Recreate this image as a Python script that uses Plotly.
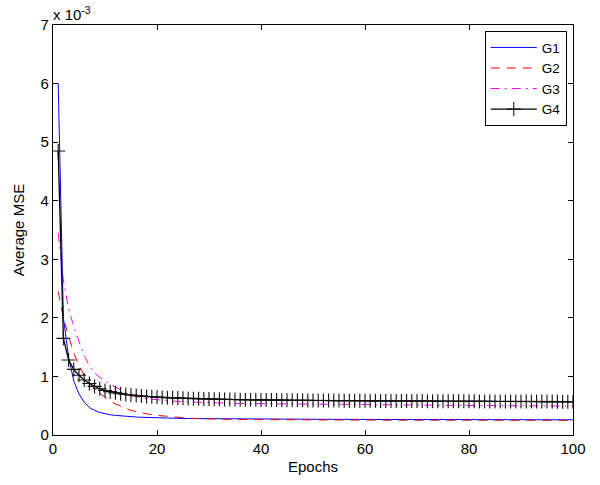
import plotly.graph_objects as go

# Training curves: average MSE (in units of 1e-3) per epoch for four groups
epochs = list(range(1, 101))

g1_mse = [
    6.00, 2.00, 1.33, 0.92, 0.70, 0.56, 0.47, 0.42, 0.385, 0.36,
    0.345, 0.335, 0.325, 0.318, 0.312, 0.307, 0.303, 0.299, 0.296, 0.293,
    0.290, 0.288, 0.286, 0.284, 0.282, 0.281, 0.280, 0.279, 0.278, 0.277,
    0.276, 0.275, 0.275, 0.274, 0.274, 0.273, 0.273, 0.272, 0.272, 0.271,
    0.271, 0.271, 0.270, 0.270, 0.270, 0.269, 0.269, 0.269, 0.268, 0.268,
    0.268, 0.268, 0.267, 0.267, 0.267, 0.267, 0.266, 0.266, 0.266, 0.266,
    0.266, 0.265, 0.265, 0.265, 0.265, 0.265, 0.264, 0.264, 0.264, 0.264,
    0.264, 0.264, 0.263, 0.263, 0.263, 0.263, 0.263, 0.263, 0.262, 0.262,
    0.262, 0.262, 0.262, 0.262, 0.262, 0.261, 0.261, 0.261, 0.261, 0.261,
    0.261, 0.261, 0.260, 0.260, 0.260, 0.260, 0.260, 0.260, 0.260, 0.260,
]

g2_mse = [
    2.45, 2.00, 1.68, 1.40, 1.18, 1.02, 0.89, 0.79, 0.71, 0.64,
    0.58, 0.53, 0.49, 0.45, 0.42, 0.395, 0.375, 0.36, 0.345, 0.335,
    0.325, 0.316, 0.308, 0.300, 0.294, 0.288, 0.283, 0.279, 0.276, 0.273,
    0.271, 0.269, 0.267, 0.266, 0.265, 0.264, 0.263, 0.262, 0.261, 0.261,
    0.260, 0.260, 0.259, 0.259, 0.258, 0.258, 0.258, 0.257, 0.257, 0.257,
    0.256, 0.256, 0.256, 0.256, 0.255, 0.255, 0.255, 0.255, 0.255, 0.254,
    0.254, 0.254, 0.254, 0.254, 0.253, 0.253, 0.253, 0.253, 0.253, 0.253,
    0.252, 0.252, 0.252, 0.252, 0.252, 0.252, 0.252, 0.252, 0.252, 0.252,
    0.251, 0.251, 0.251, 0.251, 0.251, 0.251, 0.251, 0.251, 0.251, 0.251,
    0.250, 0.250, 0.250, 0.250, 0.250, 0.250, 0.250, 0.250, 0.250, 0.250,
]

g3_mse = [
    3.45, 2.65, 2.15, 1.85, 1.60, 1.36, 1.18, 1.06, 0.98, 0.92,
    0.87, 0.82, 0.77, 0.72, 0.68, 0.655, 0.635, 0.620, 0.610, 0.600,
    0.592, 0.585, 0.578, 0.572, 0.567, 0.563, 0.559, 0.556, 0.553, 0.550,
    0.548, 0.546, 0.544, 0.542, 0.540, 0.538, 0.537, 0.535, 0.534, 0.533,
    0.532, 0.531, 0.530, 0.529, 0.528, 0.527, 0.526, 0.525, 0.524, 0.523,
    0.522, 0.521, 0.520, 0.520, 0.519, 0.518, 0.517, 0.517, 0.516, 0.515,
    0.515, 0.514, 0.513, 0.513, 0.512, 0.511, 0.511, 0.510, 0.510, 0.509,
    0.508, 0.508, 0.507, 0.507, 0.506, 0.506, 0.505, 0.505, 0.504, 0.504,
    0.503, 0.503, 0.502, 0.502, 0.501, 0.501, 0.500, 0.500, 0.499, 0.499,
    0.498, 0.498, 0.497, 0.497, 0.496, 0.496, 0.495, 0.495, 0.494, 0.494,
]

g4_mse = [
    4.85, 1.65, 1.28, 1.12, 1.02, 0.94, 0.88, 0.83, 0.79, 0.76,
    0.74, 0.72, 0.705, 0.692, 0.682, 0.673, 0.665, 0.658, 0.652, 0.647,
    0.642, 0.638, 0.634, 0.630, 0.627, 0.624, 0.621, 0.618, 0.616, 0.614,
    0.612, 0.610, 0.608, 0.606, 0.605, 0.603, 0.602, 0.601, 0.600, 0.599,
    0.598, 0.597, 0.596, 0.595, 0.594, 0.593, 0.592, 0.592, 0.591, 0.590,
    0.589, 0.589, 0.588, 0.587, 0.587, 0.586, 0.586, 0.585, 0.585, 0.584,
    0.583, 0.583, 0.582, 0.582, 0.581, 0.581, 0.580, 0.580, 0.580, 0.579,
    0.579, 0.578, 0.578, 0.577, 0.577, 0.577, 0.576, 0.576, 0.575, 0.575,
    0.575, 0.574, 0.574, 0.574, 0.573, 0.573, 0.573, 0.572, 0.572, 0.572,
    0.571, 0.571, 0.571, 0.570, 0.570, 0.570, 0.569, 0.569, 0.569, 0.568,
]

x_ticks = [0, 20, 40, 60, 80, 100]
y_ticks = [0, 1, 2, 3, 4, 5, 6, 7]

FONT = "Liberation Sans, Arial, Helvetica, sans-serif"

fig = go.Figure()
fig.add_trace(go.Scatter(
    x=epochs, y=g1_mse, name="G1", mode="lines",
    line=dict(color="#0000ff", width=1),
))
fig.add_trace(go.Scatter(
    x=epochs, y=g2_mse, name="G2", mode="lines",
    line=dict(color="#ff0000", width=1, dash="9px,7px"),
))
fig.add_trace(go.Scatter(
    x=epochs, y=g3_mse, name="G3", mode="lines",
    line=dict(color="#ff00ff", width=1, dash="9px,5px,2px,5px"),
))
fig.add_trace(go.Scatter(
    x=epochs, y=g4_mse, name="G4", mode="lines+markers",
    line=dict(color="#000000", width=1.3),
    marker=dict(symbol="cross-thin", size=10,
                line=dict(color="#111111", width=1.1)),
))

axis_common = dict(
    showline=True, linecolor="black", linewidth=1.2, mirror="ticks",
    ticks="inside", ticklen=5, tickwidth=1, tickcolor="black",
    showgrid=False, zeroline=False,
    tickfont=dict(family=FONT, size=15, color="black"),
)

fig.update_xaxes(
    range=[0, 100], tickvals=x_ticks,
    title=dict(text="Epochs", font=dict(family=FONT, size=15, color="black"), standoff=5),
    **axis_common,
)
fig.update_yaxes(
    range=[0, 7], tickvals=y_ticks,
    title=dict(text="Average MSE", font=dict(family=FONT, size=15, color="black"), standoff=12),
    **axis_common,
)

fig.add_annotation(
    xref="paper", yref="paper", x=0, y=1, xanchor="left", yanchor="bottom",
    text="x 10<sup>-3</sup>", showarrow=False, yshift=0, xshift=-2,
    font=dict(family=FONT, size=15, color="black"),
)

fig.update_layout(
    width=600, height=485,
    margin=dict(l=53, r=27, t=25, b=50),
    paper_bgcolor="white", plot_bgcolor="white",
    font=dict(family=FONT, size=15, color="black"),
    legend=dict(
        x=0.988, y=0.985, xanchor="right", yanchor="top",
        bordercolor="black", borderwidth=1, bgcolor="white",
        itemwidth=46, tracegroupgap=0,
        font=dict(family=FONT, size=13.5, color="black"),
    ),
)

fig.write_html("out.html")
